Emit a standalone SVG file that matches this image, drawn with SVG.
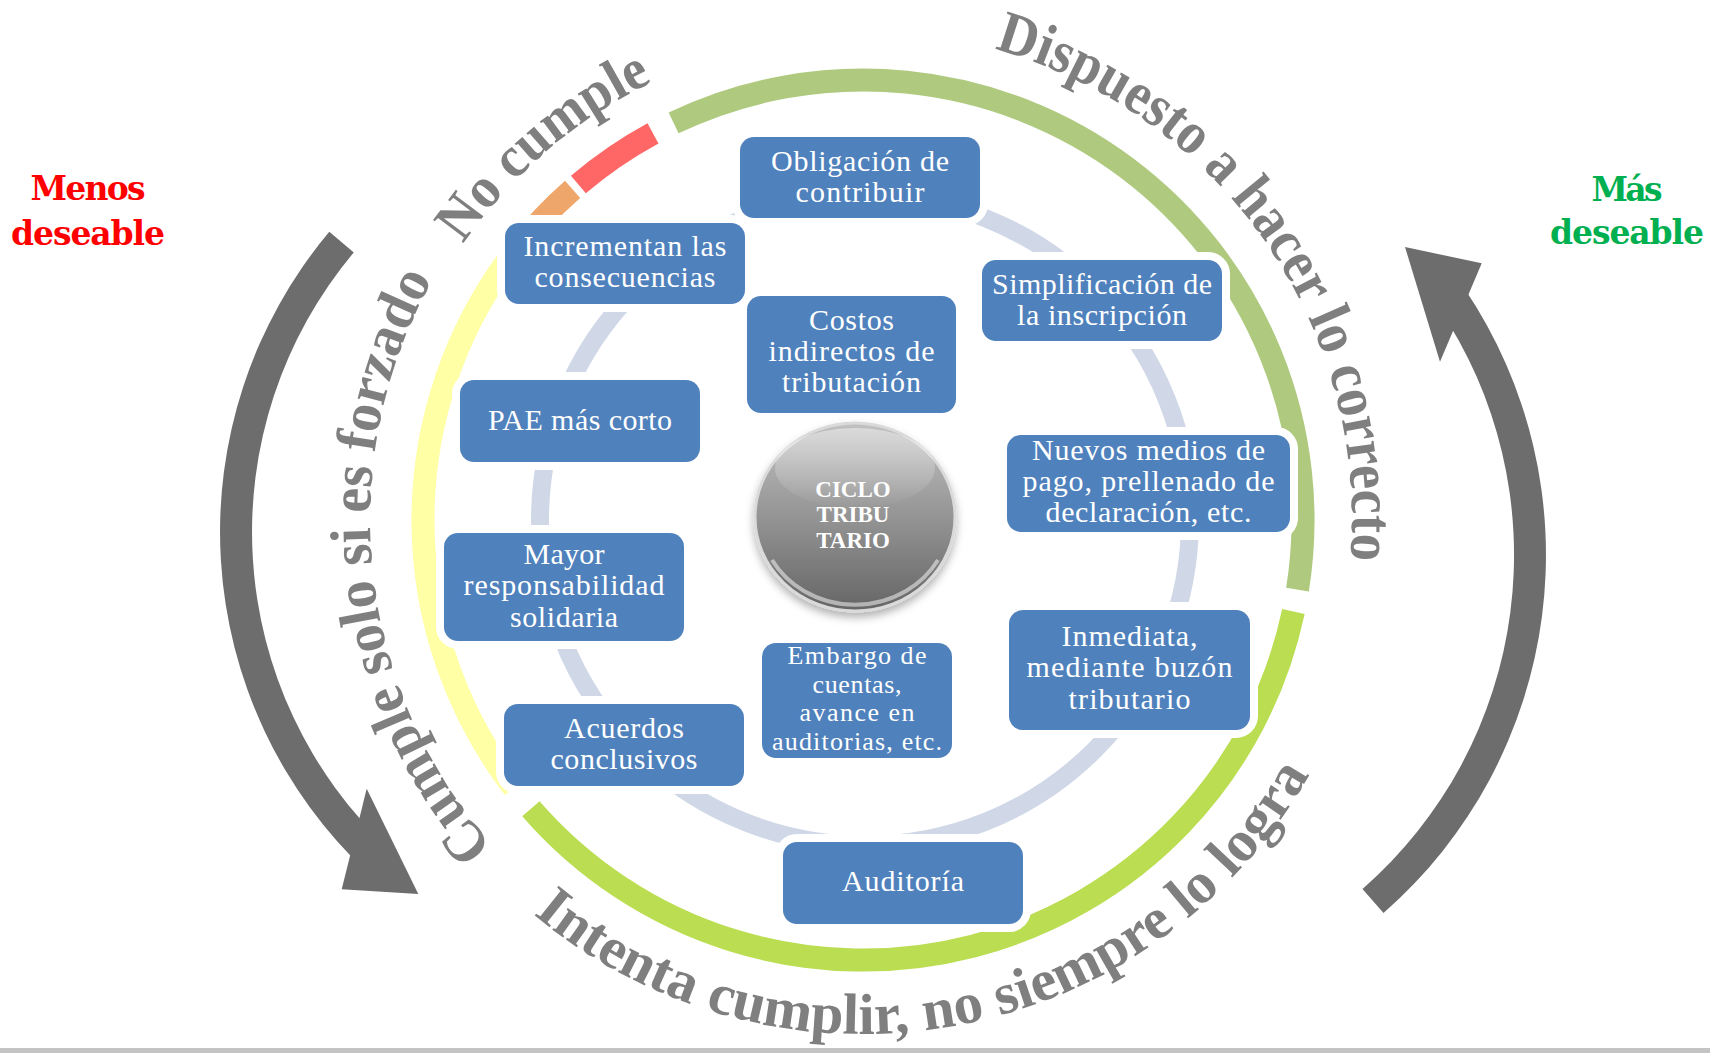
<svg xmlns="http://www.w3.org/2000/svg" width="1710" height="1053" viewBox="0 0 1710 1053">
<defs>
<style>
.ring{fill:none;stroke-width:23}
.box rect{fill:#4F81BD;stroke:#FFFFFF;stroke-width:16;paint-order:stroke}
.bt{font-family:"Liberation Serif","Times New Roman",serif;font-size:30px;fill:#FFFFFF;text-anchor:middle}
.sm{font-size:26px}
.arc{font-family:"Liberation Serif","Times New Roman",serif;font-weight:bold;fill:#7F7F7F;font-size:58px}
.arrow{fill:#6D6D6D}
.side{font-family:"DejaVu Serif",serif;font-weight:bold;font-size:33px;text-anchor:middle}
.ct{font-family:"Liberation Serif","Times New Roman",serif;font-weight:bold;font-size:23px;fill:#FFFFFF;text-anchor:middle}
</style>
<linearGradient id="sph" x1="0" y1="0" x2="0" y2="1">
<stop offset="0" stop-color="#C2C2C2"/>
<stop offset="0.5" stop-color="#949494"/>
<stop offset="1" stop-color="#656565"/>
</linearGradient>
<linearGradient id="hl" x1="0" y1="0" x2="0" y2="1">
<stop offset="0" stop-color="#FFFFFF" stop-opacity="0.85"/>
<stop offset="1" stop-color="#FFFFFF" stop-opacity="0"/>
</linearGradient>
<filter id="sh" x="-20%" y="-20%" width="140%" height="150%">
<feGaussianBlur in="SourceAlpha" stdDeviation="4"/>
<feOffset dy="5" result="b"/>
<feFlood flood-color="#000000" flood-opacity="0.3"/>
<feComposite in2="b" operator="in"/>
<feMerge><feMergeNode/><feMergeNode in="SourceGraphic"/></feMerge>
</filter>
<path id="pNo" d="M 463.0 244.0 A 486 486 0 0 1 712.8 57.8"/>
<path id="pDis" d="M 994.5 49.0 A 489 489 0 0 1 1344.6 604.9"/>
<path id="pCum" d="M 493.1 845.9 A 493 493 0 0 1 454.3 244.3"/>
<path id="pInt" d="M 533.3 914.3 A 514 514 0 0 0 1328.8 737.2"/>
</defs>
<rect x="0" y="0" width="1710" height="1053" fill="#FFFFFF"/>
<rect x="0" y="1048" width="1710" height="5" fill="#C4C4C4"/>

<g id="anillo">
<path class="ring" stroke="#AFCA7E" d="M 673.6 122.9 A 440 440 0 0 1 1297.5 589.6"/>
<path class="ring" stroke="#BBDD52" d="M 1293.4 611.5 A 440 440 0 0 1 530.9 808.7"/>
<path class="ring" stroke="#FFFFA6" d="M 513.9 787.9 A 440 440 0 0 1 511.6 255.2"/>
<path class="ring" stroke="#EFA66B" d="M 511.6 255.2 A 440 440 0 0 1 572.6 189.4"/>
<path class="ring" stroke="#FF6666" d="M 578.4 184.4 A 440 440 0 0 1 653.0 133.3"/>
</g>

<g id="connectors">
<circle cx="865" cy="520" r="325" fill="none" stroke="#D0D8E8" stroke-width="18"/>
</g>

<g id="n-obligacion" class="box"><rect x="740" y="137" width="240" height="81" rx="14"/>
<text class="bt"><tspan x="860" y="171" textLength="178">Obligación de</tspan><tspan x="860" y="202" textLength="129">contribuir</tspan></text></g>
<g id="n-simplificacion" class="box"><rect x="982" y="260" width="240" height="81" rx="14"/>
<text class="bt"><tspan x="1102" y="294" textLength="220">Simplificación de</tspan><tspan x="1102" y="325" textLength="170">la inscripción</tspan></text></g>
<g id="n-nuevos" class="box"><rect x="1007" y="435" width="283" height="97" rx="14"/>
<text class="bt"><tspan x="1148.5" y="460" textLength="233">Nuevos medios de</tspan><tspan x="1148.5" y="491" textLength="252">pago, prellenado de</tspan><tspan x="1148.5" y="522" textLength="206">declaración, etc.</tspan></text></g>
<g id="n-inmediata" class="box"><rect x="1009" y="610" width="241" height="120" rx="14"/>
<text class="bt"><tspan x="1129.5" y="646" textLength="136">Inmediata,</tspan><tspan x="1129.5" y="677" textLength="206">mediante buzón</tspan><tspan x="1129.5" y="709" textLength="122">tributario</tspan></text></g>
<g id="n-auditoria" class="box"><rect x="783" y="842" width="240" height="82" rx="14"/>
<text class="bt"><tspan x="903" y="891" textLength="122">Auditoría</tspan></text></g>
<g id="n-acuerdos" class="box"><rect x="504" y="704" width="240" height="82" rx="14"/>
<text class="bt"><tspan x="624" y="738" textLength="120">Acuerdos</tspan><tspan x="624" y="769" textLength="147">conclusivos</tspan></text></g>
<g id="n-mayor" class="box"><rect x="444" y="533" width="240" height="108" rx="14"/>
<text class="bt"><tspan x="564" y="564" textLength="81">Mayor</tspan><tspan x="564" y="595" textLength="201">responsabilidad</tspan><tspan x="564" y="627" textLength="108">solidaria</tspan></text></g>
<g id="n-pae" class="box"><rect x="460" y="380" width="240" height="82" rx="14"/>
<text class="bt"><tspan x="580" y="430" textLength="184">PAE más corto</tspan></text></g>
<g id="n-incrementan" class="box"><rect x="505" y="223" width="240" height="81" rx="14"/>
<text class="bt"><tspan x="625" y="256" textLength="203">Incrementan las</tspan><tspan x="625" y="287" textLength="181">consecuencias</tspan></text></g>
<g id="n-costos" class="box"><rect x="747" y="296" width="209" height="117" rx="14"/>
<text class="bt"><tspan x="851.5" y="330" textLength="85">Costos</tspan><tspan x="851.5" y="361" textLength="166">indirectos de</tspan><tspan x="851.5" y="392" textLength="139">tributación</tspan></text></g>
<g id="n-embargo" class="box"><rect x="762" y="643" width="190" height="115" rx="14"/>
<text class="bt sm"><tspan x="857" y="664" textLength="139">Embargo de</tspan><tspan x="857" y="693" textLength="89">cuentas,</tspan><tspan x="857" y="721" textLength="115">avance en</tspan><tspan x="857" y="750" textLength="170">auditorias, etc.</tspan></text></g>

<g id="ciclo">
<ellipse cx="855" cy="517" rx="100" ry="94" fill="url(#sph)" stroke="#DADADA" stroke-width="3" filter="url(#sh)"/>
<ellipse cx="855" cy="468" rx="80" ry="40" fill="url(#hl)" opacity="0.5"/>
<path d="M 772 560 A 96 90 0 0 0 938 560" fill="none" stroke="#FFFFFF" stroke-opacity="0.5" stroke-width="4"/>
<text class="ct"><tspan x="853" y="497">CICLO</tspan><tspan x="853" y="522">TRIBU</tspan><tspan x="853" y="548">TARIO</tspan></text>
</g>

<g id="etiquetas-arco">
<text class="arc"><textPath href="#pNo" textLength="252" lengthAdjust="spacingAndGlyphs">No cumple</textPath></text>
<text class="arc" style="font-size:60px"><textPath href="#pDis" textLength="675" lengthAdjust="spacingAndGlyphs">Dispuesto a hacer lo correcto</textPath></text>
<text class="arc"><textPath href="#pCum" textLength="607" lengthAdjust="spacingAndGlyphs">Cumple solo si es forzado</textPath></text>
<text class="arc"><textPath href="#pInt" textLength="899" lengthAdjust="spacingAndGlyphs">Intenta cumplir, no siempre lo logra</textPath></text>
</g>

<g id="flecha-izq">
<path class="arrow" d="M 329.3 231.8 A 467 467 0 0 0 368.5 873.5 L 390.3 850.1 A 435 435 0 0 1 353.8 252.4 Z"/>
<polygon class="arrow" points="366.7,788.8 341.7,889.2 418.3,894"/>
</g>
<g id="flecha-der">
<path class="arrow" d="M 1383.5 913.1 A 476 476 0 0 0 1464.6 288.8 L 1438.1 306.7 A 444 444 0 0 1 1362.5 889.1 Z"/>
<polygon class="arrow" points="1405,247 1481.7,263.3 1440,361.7"/>
</g>

<g id="menos">
<text class="side" fill="#FF0000"><tspan x="88" y="200" textLength="115">Menos</tspan><tspan x="88" y="245" textLength="154">deseable</tspan></text>
</g>
<g id="mas">
<text class="side" fill="#00B050"><tspan x="1627" y="201" textLength="71">Más</tspan><tspan x="1627" y="244" textLength="154">deseable</tspan></text>
</g>
</svg>
